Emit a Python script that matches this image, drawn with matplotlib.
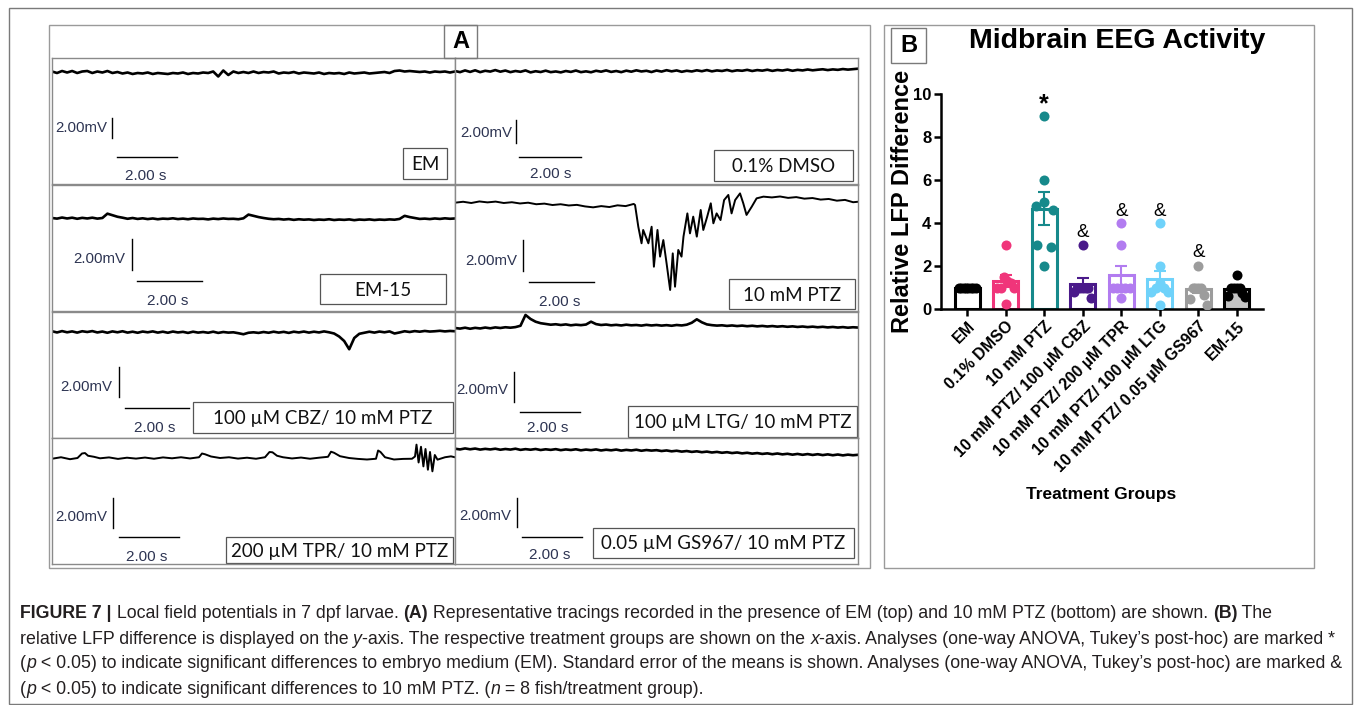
import numpy as np
import matplotlib
matplotlib.use('Agg')
import matplotlib.pyplot as plt
from matplotlib.patches import Rectangle
from matplotlib import font_manager

W, H = 1355, 705

# ---------------- panel A : LFP traces (mV) ----------------
em_v = [0.05,-0.1,0.1,-0.05,0.1,-0.1,0.05,0.1,-0.1,0.05,
        -0.05,0.1,-0.1,0,-0.15,-0.05,-0.2,-0.1,-0.15,-0.05,
        -0.2,-0.1,-0.15,-0.2,-0.1,-0.15,-0.05,-0.2,-0.1,-0.15,
        -0.05,-0.1,0.05,-0.45,0.15,-0.3,0.05,-0.1,0,-0.1,
        0.05,-0.1,0,-0.05,0.05,-0.15,-0.05,-0.1,0,-0.15,
        -0.05,-0.1,-0.15,-0.05,-0.2,-0.1,-0.15,-0.1,-0.2,-0.05,
        -0.15,-0.1,-0.05,-0.15,-0.1,-0.05,0,-0.1,0.1,0.15,
        0.05,0.1,0.05,0,0.05,-0.05,0.05,0,0.05,-0.05,0.05]

dmso_v = [0.0,-0.1,0.05,-0.08,0.06,-0.1,0.02,-0.05,0.08,-0.06,
          0.04,-0.1,0.0,-0.07,0.05,-0.12,-0.02,-0.09,0.03,-0.1,
          -0.04,-0.12,0.0,-0.08,0.04,-0.1,-0.03,-0.11,0.02,-0.06,
          0.05,-0.08,0.0,-0.1,0.03,-0.06,0.06,-0.04,0.02,-0.09,
          0.04,-0.05,0.07,-0.03,0.05,-0.07,0.02,-0.04,0.06,-0.02,
          0.08,-0.03,0.05,0.0,0.09,-0.02,0.06,0.02,0.1,0.0,
          0.08,0.03,0.11,0.01,0.09,0.04,0.12,0.02,0.1,0.05,
          0.13,0.06,0.11,0.15,0.08,0.14,0.1,0.17,0.12,0.16,0.2]

em15_v = [0.0,-0.04,0.03,-0.03,0.02,-0.05,0.01,-0.03,0.02,-0.04,
          0.0,0.28,0.18,0.08,0.02,-0.05,0.0,-0.06,-0.02,-0.07,
          -0.03,-0.08,-0.04,-0.06,-0.02,-0.07,-0.04,-0.08,-0.03,-0.06,
          -0.05,-0.09,-0.04,-0.07,-0.03,-0.06,-0.05,-0.08,-0.02,0.22,
          0.14,0.06,0.0,-0.05,-0.08,-0.06,-0.1,-0.07,-0.12,-0.08,
          -0.11,-0.09,-0.13,-0.1,-0.12,-0.08,-0.13,-0.1,-0.12,-0.09,
          -0.14,-0.1,-0.12,-0.09,-0.13,-0.1,-0.12,-0.09,-0.11,-0.06,
          0.14,0.06,0.0,-0.06,-0.04,-0.07,-0.03,-0.06,-0.02,-0.05,-0.03]

ptz_t = [0,0.25,0.5,0.75,1.0,1.25,1.5,1.75,2.0,2.25,2.5,2.75,3.0,3.25,3.5,3.75,4.0,4.25,4.5,4.75,5.0,5.25,5.5,
         5.54,5.64,5.74,5.79,5.95,6.05,6.12,6.23,6.31,6.41,6.51,6.62,6.70,6.77,6.87,6.97,7.03,7.15,7.23,7.33,
         7.44,7.56,7.64,7.76,7.87,7.95,8.05,8.17,8.28,8.41,8.51,8.62,8.77,8.87,8.97,9.13,9.28,9.49,
         9.75,10.0,10.25,10.5,10.75,11.0,11.25,11.5,11.75,12.0,12.25,12.4]
ptz_v = [0.02,0.08,0.0,0.1,0.04,0.09,0.0,0.05,-0.03,0.02,-0.08,-0.04,-0.13,-0.08,-0.16,-0.12,-0.22,-0.28,-0.2,-0.26,-0.15,-0.2,-0.06,
         -0.13,-1.53,-2.6,-1.74,-2.6,-1.53,-4.11,-1.74,-3.46,-2.39,-3.89,-5.61,-3.25,-5.4,-3.03,-3.46,-2.17,-0.67,-1.96,-0.88,
         -2.17,-0.45,-1.74,-0.88,-0.02,-1.31,-0.67,-1.1,0.19,0.52,-0.67,0.19,0.62,-0.02,-0.77,-0.24,0.3,0.41,
         0.36,0.42,0.33,0.38,0.28,0.32,0.22,0.26,0.15,0.2,0.05,0.08]

cbz_v = [0.05,-0.03,0.06,-0.02,0.04,-0.04,0.05,0.0,0.06,-0.03,
         0.03,-0.05,0.04,-0.02,0.05,-0.04,0.02,-0.05,0.03,-0.02,
         0.04,-0.04,0.02,-0.05,0.03,-0.03,0.01,-0.06,0.02,-0.04,
         0.0,-0.05,0.02,-0.06,0.0,-0.04,-0.02,-0.08,-0.15,-0.05,
         -0.02,-0.06,0.0,-0.05,0.02,-0.04,0.01,-0.06,0.02,-0.03,
         0.03,-0.04,0.02,-0.03,0.04,-0.02,-0.1,-0.3,-0.6,-1.15,
         -0.4,-0.12,-0.05,0.02,-0.04,0.03,-0.02,0.04,-0.1,-0.03,
         0.05,0.0,0.06,0.02,0.07,0.03,0.05,0.08,0.04,0.07,0.05]

ltg_v = [0.0,-0.04,0.02,-0.05,0.01,-0.03,0.03,-0.02,0.04,0.0,
         0.05,0.02,0.06,0.15,0.87,0.6,0.42,0.32,0.27,0.22,
         0.25,0.2,0.24,0.18,0.22,0.19,0.23,0.42,0.26,0.2,
         0.23,0.18,0.21,0.17,0.22,0.18,0.2,0.16,0.21,0.17,
         0.2,0.16,0.19,0.15,0.2,0.17,0.22,0.35,0.58,0.38,
         0.24,0.19,0.16,0.18,0.14,0.17,0.13,0.16,0.12,0.15,
         0.11,0.14,0.1,0.13,0.09,0.12,0.08,0.11,0.07,0.1,
         0.06,0.09,0.05,0.08,0.04,0.07,0.03,0.06,0.02,0.05,0.03]

tpr_t = [0.0,0.3,0.6,0.85,1.0,1.1,1.2,1.4,1.6,1.9,2.2,2.5,2.8,3.1,3.4,3.7,4.0,4.3,4.6,4.9,
         5.0,5.1,5.3,5.6,5.9,6.2,6.5,6.8,7.1,7.25,7.35,7.5,7.7,8.0,8.3,8.6,8.9,9.2,9.3,9.4,
         9.6,9.9,10.2,10.5,10.8,10.87,10.95,11.1,11.4,11.7,12.0,12.1,12.15,12.22,12.3,12.38,12.45,12.53,12.6,12.68,
         12.76,12.85,13.1,13.3,13.43]
tpr_v = [-0.05,0.05,-0.08,0.0,0.3,0.33,0.15,0.08,-0.02,0.04,-0.06,0.02,-0.04,0.03,-0.05,0.04,-0.02,0.05,-0.03,0.05,
         0.3,0.25,0.1,0.0,0.05,-0.04,0.02,-0.05,0.05,0.4,0.38,0.15,0.05,-0.03,0.03,-0.05,0.02,0.08,0.42,0.35,
         0.12,0.0,-0.06,-0.1,-0.05,0.5,0.4,0.05,-0.1,-0.06,-0.05,0.1,0.89,-0.3,0.75,-0.56,0.6,-0.78,0.4,-0.89,
         0.2,-0.11,0.05,0.11,0.05]

gs_v = [0.02,-0.03,0.04,-0.02,0.03,-0.04,0.01,-0.03,0.02,-0.05,
        0.0,-0.04,0.02,-0.06,-0.01,-0.05,0.0,-0.07,-0.02,-0.06,
        -0.01,-0.08,-0.03,-0.07,-0.02,-0.09,-0.04,-0.08,-0.03,-0.1,
        -0.05,-0.09,-0.04,-0.11,-0.06,-0.1,-0.05,-0.12,-0.07,-0.11,
        -0.08,-0.14,-0.1,-0.16,-0.12,-0.18,-0.14,-0.2,-0.16,-0.22,
        -0.18,-0.24,-0.2,-0.26,-0.22,-0.28,-0.24,-0.3,-0.26,-0.32,
        -0.28,-0.34,-0.3,-0.36,-0.31,-0.37,-0.33,-0.39,-0.34,-0.4,
        -0.35,-0.41,-0.36,-0.42,-0.37,-0.43,-0.38,-0.44,-0.39,-0.43,-0.4]

trace_labels = ['EM', '0.1% DMSO', 'EM-15', '10 mM PTZ',
                '100 µM CBZ/ 10 mM PTZ', '100 µM LTG/ 10 mM PTZ',
                '200 µM TPR/ 10 mM PTZ', '0.05 µM GS967/ 10 mM PTZ']

# ---------------- panel B : relative LFP difference ----------------
groups = ['EM', '0.1% DMSO', '10 mM PTZ', '10 mM PTZ/ 100 µM CBZ',
          '10 mM PTZ/ 200 µM TPR', '10 mM PTZ/ 100 µM LTG',
          '10 mM PTZ/ 0.05 µM GS967', 'EM-15']
pts_em = [1, 1, 1, 1, 1, 1, 1, 1]
pts_dmso = [3, 1.5, 1.3, 1.2, 1, 1, 1, 0.25]
pts_ptz = [9, 6, 5, 4.8, 4.6, 3, 2.9, 2]
pts_cbz = [3, 1, 1, 1, 1, 1, 0.8, 0.5]
pts_tpr = [4, 3, 1, 1, 1, 1, 1, 0.5]
pts_ltg = [4, 2, 1.2, 1, 1, 0.8, 0.8, 0.2]
pts_gs = [2, 1, 1, 1, 1, 0.65, 0.45, 0.2]
pts_em15 = [1.6, 1, 1, 1, 1, 0.75, 0.6, 0.55]
group_pts = [pts_em, pts_dmso, pts_ptz, pts_cbz, pts_tpr, pts_ltg, pts_gs, pts_em15]
group_cols = ['#000000', '#f0357a', '#16898b', '#4a1a8a', '#b27cf0', '#6fd2fa', '#9c9c9c', '#000000']
group_fill = ['white'] * 7 + ['#c4c4c4']
sig_star = {2: 9.5}
sig_amp = {3: 3.55, 4: 4.55, 5: 4.55, 6: 2.65}

# ------------------------------------------------------------------
fig = plt.figure(figsize=(W / 100, H / 100), dpi=100)
names = {f.name for f in font_manager.fontManager.ttflist}
SANS = 'Liberation Sans'
NARROW = 'Liberation Sans Narrow' if 'Liberation Sans Narrow' in names else 'Liberation Sans'


def rect(x0, y0, x1, y1, ec='#8a8a8a', lw=1.0, fc='none'):
    fig.add_artist(Rectangle((x0 / W, 1 - y1 / H), (x1 - x0) / W, (y1 - y0) / H,
                             transform=fig.transFigure, fill=(fc != 'none'),
                             facecolor=fc, edgecolor=ec, lw=lw))


# outer frames
rect(9, 8, 1352, 704, ec='#7a7a7a', lw=1.0)
rect(49, 25, 870, 568, ec='#9a9a9a', lw=1.0)
rect(884, 25, 1314, 568, ec='#9a9a9a', lw=1.0)
rect(444, 25, 477, 58, ec='#7a7a7a', lw=1.0)
fig.text(460.5 / W, 1 - 42 / H, 'A', ha='center', va='center', fontsize=17,
         fontweight='bold', family=SANS)
rect(891, 28, 926, 63, ec='#7a7a7a', lw=1.0)
fig.text(908.5 / W, 1 - 46 / H, 'B', ha='center', va='center', fontsize=17,
         fontweight='bold', family=SANS)

# trace panels: (left, top, px per mV, px per s, baseline px, vbar, mVtext, hbar, s text, label box)
PW, PH = 403, 126
panels = [
    (52, 58, 10, 30, 14, (60, 60, 80), (55, 70), (65, 125, 99), (94, 118), (351, 90, 395, 121)),
    (455, 58, 11.5, 31, 13, (61, 62, 85), (57, 75), (64, 126, 99), (96, 116), (259, 92, 398, 123)),
    (52, 185, 15.5, 32.5, 33, (80, 54, 85), (73, 74), (85, 150, 96), (116, 116), (268, 89, 394, 119)),
    (455, 185, 15.5, 32.5, 18, (68, 55, 86), (62, 76), (74, 139, 97), (105, 117), (274, 94, 400, 124)),
    (52, 312, 15, 32, 20, (67, 55, 85), (60, 75), (73, 137, 96), (103, 116), (141, 90, 401, 121)),
    (455, 312, 15, 30, 16, (59, 60, 90), (53, 78), (65, 125, 100), (93, 116), (173, 94, 402, 125)),
    (52, 438, 15, 30, 20, (61, 60, 90), (55, 79), (67, 127, 99), (95, 119), (174, 99, 401, 125)),
    (455, 438, 14.5, 30, 11, (62, 60, 89), (56, 78), (67, 127, 99), (95, 117), (138, 90, 399, 120)),
]
traces = [(None, em_v), (None, dmso_v), (None, em15_v), (ptz_t, ptz_v),
          (None, cbz_v), (None, ltg_v), (tpr_t, tpr_v), (None, gs_v)]

ink = '#2d3452'
for (left, top, k, hs, b, vb, mvt, hb, st, box), (tt, vv), lab in zip(panels, traces, trace_labels):
    ax = fig.add_axes([left / W, 1 - (top + PH) / H, PW / W, PH / H])
    T = PW / hs
    t = np.linspace(0, T, len(vv)) if tt is None else np.array(tt)
    ax.plot(t, vv, color='black', lw=1.9 if tt is None else 1.4, solid_joinstyle='round')
    ax.set_xlim(0, T)
    ax.set_ylim(-(PH - b) / k, b / k)
    ax.set_xticks([])
    ax.set_yticks([])
    for s in ax.spines.values():
        s.set_color('#8a8a8a')
        s.set_linewidth(1.0)

    def fr(rx, ry):
        return rx / PW, 1 - ry / PH

    ax.plot([fr(vb[0], 0)[0]] * 2, [fr(0, vb[1])[1], fr(0, vb[2])[1]],
            transform=ax.transAxes, color='black', lw=1.0)
    ax.plot([fr(hb[0], 0)[0], fr(hb[1], 0)[0]], [fr(0, hb[2])[1]] * 2,
            transform=ax.transAxes, color='black', lw=1.0)
    ax.text(*fr(*mvt), '2.00mV', transform=ax.transAxes, ha='right', va='center',
            fontsize=10.8, color=ink, family=SANS)
    ax.text(*fr(*st), '2.00 s', transform=ax.transAxes, ha='center', va='center',
            fontsize=11, color=ink, family=SANS)
    x0, y0 = fr(box[0], box[3])
    ax.add_patch(Rectangle((x0, y0), (box[2] - box[0]) / PW, (box[3] - box[1]) / PH,
                           transform=ax.transAxes, facecolor='white', edgecolor='#555555', lw=0.9))
    ax.text(*fr((box[0] + box[2]) / 2, (box[1] + box[3]) / 2 + 1), lab, transform=ax.transAxes,
            ha='center', va='center', fontsize=13.5, family='Lato', color='#111111')

# ---------------- panel B ----------------
axb = fig.add_axes([941 / W, 1 - 309 / H, 322 / W, 215 / H])
x = np.arange(len(groups))
means = [np.mean(p) for p in group_pts]
sems = [np.std(p, ddof=1) / np.sqrt(len(p)) for p in group_pts]


def swarm(vals):
    vals = sorted(vals, reverse=True)
    clusters, cur = [], [vals[0]]
    for v in vals[1:]:
        if cur[-1] - v > 0.35:
            clusters.append(cur)
            cur = [v]
        else:
            cur.append(v)
    clusters.append(cur)
    ys, xs = [], []
    for c in clusters:
        n = len(c)
        if n == 1:
            offs = [0.0]
        elif n == 2:
            offs = [-0.18, 0.18]
        else:
            offs = sorted(np.linspace(-0.22, 0.22, n), key=abs)
        ys += c
        xs += list(offs)
    return np.array(xs), np.array(ys)


axb.bar(x, means, width=0.65, color=group_fill, edgecolor=group_cols, linewidth=2.2, zorder=2)
for i, p in enumerate(group_pts):
    ox, oy = swarm(p)
    axb.scatter(x[i] + ox, oy, s=52, color=group_cols[i], zorder=3, linewidths=0)
    axb.errorbar(x[i], means[i], yerr=sems[i], color=group_cols[i], capsize=4.5,
                 elinewidth=1.5, capthick=1.5, zorder=4)
for i, yv in sig_star.items():
    axb.text(x[i], yv, '*', ha='center', va='center', fontsize=18, fontweight='bold', family=SANS)
for i, yv in sig_amp.items():
    axb.text(x[i], yv, '&', ha='center', va='center', fontsize=13.5, family=SANS)

axb.set_xlim(-0.68, 7.68)
axb.set_ylim(0, 10)
axb.set_yticks([0, 2, 4, 6, 8, 10])
axb.set_xticks(x)
axb.set_xticklabels(groups, rotation=45, ha='right', rotation_mode='anchor')
for lbl in axb.get_xticklabels() + axb.get_yticklabels():
    lbl.set_fontweight('bold')
    lbl.set_family(SANS)
for lbl in axb.get_xticklabels():
    lbl.set_fontsize(11.5)
for lbl in axb.get_yticklabels():
    lbl.set_fontsize(12)
axb.tick_params(width=1.8, length=5, direction='out', pad=2)
for s in ['top', 'right']:
    axb.spines[s].set_visible(False)
for s in ['left', 'bottom']:
    axb.spines[s].set_linewidth(1.8)
axb.set_ylabel('Relative LFP Difference', fontsize=17, fontweight='bold', family=SANS)
axb.yaxis.set_label_coords(-0.085, 0.5)

fig.text(1117 / W, 1 - 41 / H, 'Midbrain EEG Activity', ha='center', va='center',
         fontsize=20.5, fontweight='bold', family=SANS)
fig.text(1101 / W, 1 - 494 / H, 'Treatment Groups', ha='center', va='center',
         fontsize=12.5, fontweight='bold', family=SANS)

# ---------------- caption ----------------
cap_lines = [
    [('FIGURE 7 |', 'bold', 'normal'), (' Local field potentials in 7 dpf larvae. ', 'normal', 'normal'),
     ('(A)', 'bold', 'normal'),
     (' Representative tracings recorded in the presence of EM (top) and 10 mM PTZ (bottom) are shown. ', 'normal', 'normal'),
     ('(B)', 'bold', 'normal'), (' The', 'normal', 'normal')],
    [('relative LFP difference is displayed on the ', 'normal', 'normal'), ('y', 'normal', 'italic'),
     ('-axis. The respective treatment groups are shown on the ', 'normal', 'normal'), ('x', 'normal', 'italic'),
     ('-axis. Analyses (one-way ANOVA, Tukey\u2019s post-hoc) are marked *', 'normal', 'normal')],
    [('(', 'normal', 'normal'), ('p', 'normal', 'italic'),
     (' < 0.05) to indicate significant differences to embryo medium (EM). Standard error of the means is shown. '
      'Analyses (one-way ANOVA, Tukey\u2019s post-hoc) are marked &', 'normal', 'normal')],
    [('(', 'normal', 'normal'), ('p', 'normal', 'italic'),
     (' < 0.05) to indicate significant differences to 10 mM PTZ. (', 'normal', 'normal'), ('n', 'normal', 'italic'),
     (' = 8 fish/treatment group).', 'normal', 'normal')],
]
cap_y = [613, 639, 664, 689]
renderer = fig.canvas.get_renderer()


def run_width(s, size, weight, style):
    a = fig.text(0, 0, '|' + s + '|', fontsize=size, fontweight=weight, fontstyle=style, family=NARROW)
    w1 = a.get_window_extent(renderer).width
    a.remove()
    a = fig.text(0, 0, '||', fontsize=size, fontweight=weight, fontstyle=style, family=NARROW)
    w2 = a.get_window_extent(renderer).width
    a.remove()
    return w1 - w2


# font size chosen so the second line spans the same width as in the figure
probe = sum(run_width(s, 12, w, st) for s, w, st in cap_lines[1])
cap_size = 12 * (1340 - 20) / probe
for line, yy in zip(cap_lines, cap_y):
    xx = 20
    for s, w, st in line:
        fig.text(xx / W, 1 - yy / H, s, fontsize=cap_size, fontweight=w, fontstyle=st,
                 family=NARROW, va='center', ha='left', color='#231f20')
        xx += run_width(s, cap_size, w, st)

fig.savefig('out.png', dpi=100)
